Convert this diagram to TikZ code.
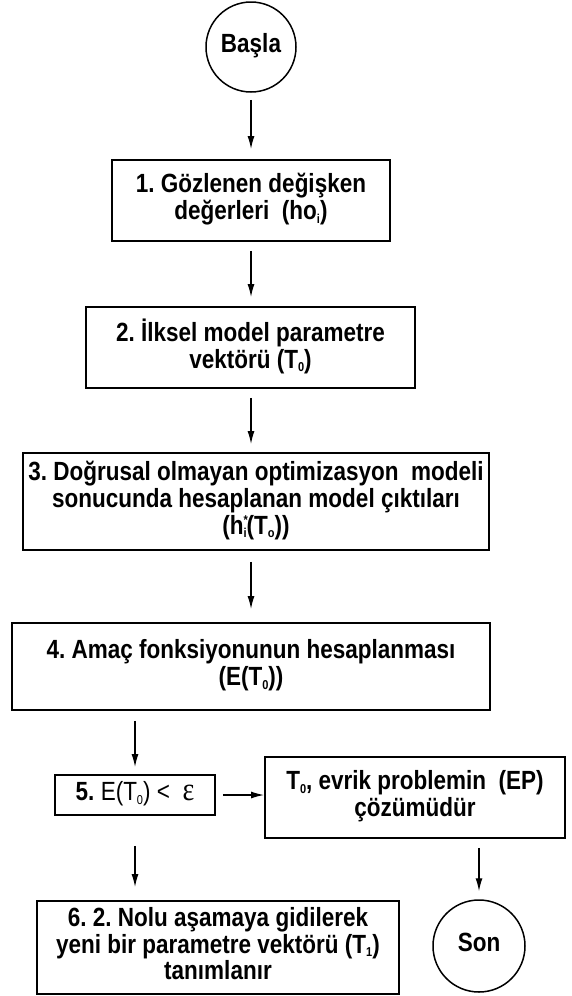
\documentclass[tikz,border=0pt]{standalone}
\usepackage{fontspec}
\setmainfont{Liberation Sans}
\newfontfamily\serifgreek{Liberation Serif}
\usetikzlibrary{arrows.meta}
\frenchspacing
\newcommand{\mysub}[1]{\raisebox{-3pt}{\fontsize{11}{11}\selectfont #1}}
\newcommand{\mysup}[1]{\raisebox{8pt}{\fontsize{11}{11}\selectfont #1}}
\newcommand{\stretchtxt}[1]{\scalebox{1}[1.17]{\begin{tabular}{@{}c@{}}#1\end{tabular}}}
\tikzset{
  stepbox/.style={draw, line width=1.8pt, rectangle, inner sep=0pt, align=center,
    font=\fontsize{22.5}{22}\selectfont\bfseries},
  termnode/.style={draw, line width=1.5pt, circle, inner sep=0pt, minimum size=90pt,
    font=\fontsize{22.5}{22}\selectfont\bfseries},
  arr/.style={-{Latex[length=13pt,width=7pt]}, line width=1.4pt}
}
\begin{document}
\begin{tikzpicture}[x=1pt,y=-1pt]
\useasboundingbox (0,0) rectangle (571,996);
\node[termnode] (start) at (251,47) {\stretchtxt{Başla}};
\node[stepbox, minimum width=278pt, minimum height=81pt] (b1) at (251,200.5)
  {\stretchtxt{1. Gözlenen değişken\\değerleri\ \ (ho\mysub{i})}};
\node[stepbox, minimum width=329pt, minimum height=81pt] (b2) at (250.5,347.5)
  {\stretchtxt{2. İlksel model parametre\\vektörü (T\mysub{0})}};
\node[stepbox, minimum width=466pt, minimum height=97pt] (b3) at (256,501.5)
  {\stretchtxt{3. Doğrusal olmayan optimizasyon\ \ modeli\\sonucunda hesaplanan model çıktıları\\(h\rlap{\mysup{*}}\mysub{i}(T\mysub{o}))}};
\node[stepbox, minimum width=478pt, minimum height=87pt] (b4) at (251,666.5)
  {\stretchtxt{4. Amaç fonksiyonunun hesaplanması\\(E(T\mysub{0}))}};
\node[stepbox, minimum width=160pt, minimum height=40pt] (b5) at (135,795)
  {\stretchtxt{5. \mdseries E(T\mysub{0}) <\ \ {\serifgreek\fontsize{28}{28}\selectfont ε}}};
\node[stepbox, minimum width=300pt, minimum height=81pt] (t0) at (415,797.5)
  {\stretchtxt{T\mysub{0}, evrik problemin\ \ (EP)\\çözümüdür}};
\node[stepbox, minimum width=362pt, minimum height=93pt] (b6) at (218,947.5)
  {\stretchtxt{6. 2. Nolu aşamaya gidilerek\\yeni bir parametre vektörü (T\mysub{1})\\tanımlanır}};
\node[termnode, minimum size=92pt] (son) at (479,946) {\stretchtxt{Son}};

\draw[arr, shorten <=7pt, shorten >=10pt] (start.south) -- (start.south |- b1.north);
\draw[arr, shorten <=9pt, shorten >=9pt] (b1.south) -- (b1.south |- b2.north);
\draw[arr, shorten <=9pt, shorten >=8pt] (b2.south -| start) -- (start |- b3.north);
\draw[arr, shorten <=11pt, shorten >=13pt] (b3.south -| start) -- (start |- b4.north);
\draw[arr, shorten <=10pt, shorten >=7pt] (b4.south -| b5.north) -- (b5.north);
\draw[arr, shorten <=7pt] (b5.east) -- (b5.east -| t0.west);
\draw[arr, shorten <=30pt, shorten >=13pt] (b5.south) -- (b5.south |- b6.north);
\draw[arr, shorten <=9pt, shorten >=8pt] (t0.south -| son.north) -- (son.north);
\end{tikzpicture}
\end{document}
